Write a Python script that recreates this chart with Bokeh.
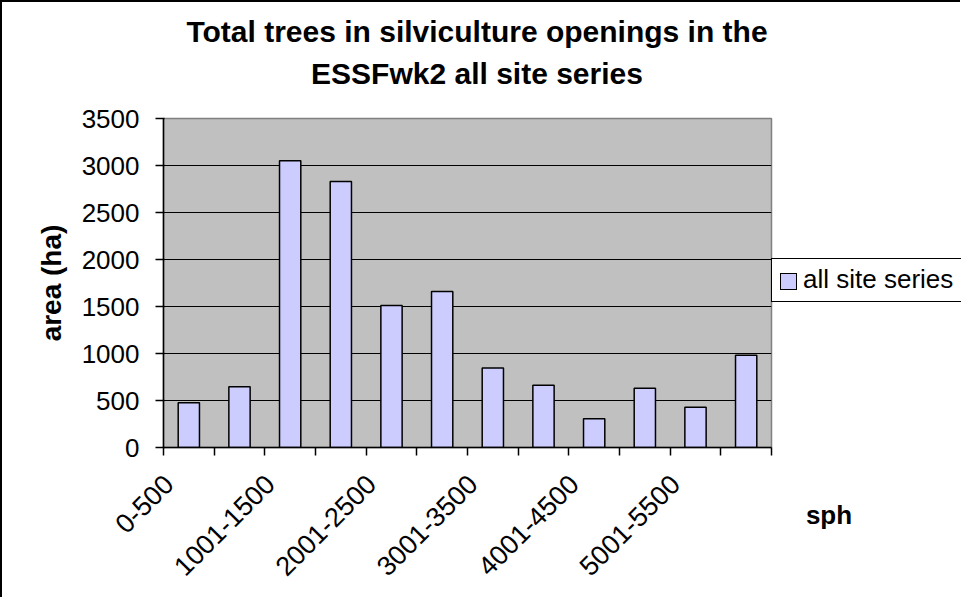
import math
from bokeh.plotting import figure
from bokeh.layouts import column, row
from bokeh.models import FixedTicker, Range1d, ColumnDataSource, Div
from bokeh.embed import file_html
from bokeh.resources import INLINE

# ---- data ----
categories = ["0-500", "501-1000", "1001-1500", "1501-2000", "2001-2500", "2501-3000",
              "3001-3500", "3501-4000", "4001-4500", "4501-5000", "5001-5500", ">5500"]
area_ha = [476, 646, 3050, 2831, 1511, 1659, 847, 661, 307, 629, 428, 981]
y_ticks = [0, 500, 1000, 1500, 2000, 2500, 3000, 3500]
series_name = "all site series"
title_lines = ["Total trees in silviculture openings in the", "ESSFwk2 all site series"]
y_title = "area (ha)"
x_title = "sph"

FONT = "Liberation Sans"
BAR_FILL = "#CCCCFF"
LABEL_SHIFT = 0.4   # rotated category labels end a little left of the category centre

n = len(categories)
xs = [i + 0.5 for i in range(n)]
src = ColumnDataSource(dict(x=xs, area=area_ha, cat=categories))

FRAME_W, FRAME_H = 608, 329
B_LEFT, B_TOP, B_RIGHT, B_BOTTOM = 161, 18, 2, 150

p = figure(width=B_LEFT + FRAME_W + B_RIGHT, height=B_TOP + FRAME_H + B_BOTTOM,
           frame_width=FRAME_W, frame_height=FRAME_H, sizing_mode="fixed",
           x_range=Range1d(0, n), y_range=Range1d(0, y_ticks[-1]),
           output_backend="svg", toolbar_location=None,
           min_border_left=B_LEFT, min_border_top=B_TOP,
           min_border_right=B_RIGHT, min_border_bottom=B_BOTTOM)
p.title.text = ""
p.title.visible = False

p.background_fill_color = "#C0C0C0"
p.border_fill_color = "white"
p.outline_line_color = "#808080"
p.outline_line_width = 1.5

p.vbar(x="x", top="area", width=0.42, bottom=0, source=src,
       fill_color=BAR_FILL, line_color="black", line_width=1.5)

p.xgrid.visible = False
p.ygrid.grid_line_color = "black"
p.ygrid.grid_line_width = 1.2

# y axis
ya = p.yaxis[0]
ya.ticker = FixedTicker(ticks=y_ticks)
ya.major_label_text_font = FONT
ya.major_label_text_font_size = "26px"
ya.major_label_text_color = "black"
ya.major_tick_out = 8
ya.major_tick_in = 1
ya.major_tick_line_color = "black"
ya.major_tick_line_width = 1.5
ya.minor_tick_line_color = None
ya.axis_line_color = "black"
ya.axis_line_width = 1.5
ya.major_label_standoff = 16
ya.axis_label = y_title
ya.axis_label_text_font = FONT
ya.axis_label_text_font_style = "bold"
ya.axis_label_text_font_size = "28px"
ya.axis_label_text_color = "black"
ya.axis_label_standoff = 12

# x axis: tick marks between categories, every other category labelled
xa = p.xaxis[0]
label_ticks = [xs[i] - LABEL_SHIFT for i in range(0, n, 2)]
xa.ticker = FixedTicker(ticks=label_ticks, minor_ticks=list(range(n + 1)))
xa.major_label_overrides = {xs[i] - LABEL_SHIFT: categories[i] for i in range(0, n, 2)}
xa.major_tick_line_color = None
xa.major_tick_out = 0
xa.major_tick_in = 0
xa.minor_tick_line_color = "black"
xa.minor_tick_line_width = 1.5
xa.minor_tick_out = 8
xa.minor_tick_in = 0
xa.axis_line_color = "black"
xa.axis_line_width = 1.5
xa.major_label_orientation = math.pi / 4
xa.major_label_text_font = FONT
xa.major_label_text_font_size = "27px"
xa.major_label_text_color = "black"
xa.major_label_standoff = 24

# ---- title block (two centred lines) ----
title_html = (
    "<div style=\"position:relative;width:950px;height:98px;\">"
    "<div style=\"position:absolute;left:0;top:9px;width:950px;text-align:center;"
    f"font-family:'{FONT}';font-weight:bold;font-size:30px;line-height:41.6px;color:black;"
    "white-space:nowrap;\">"
    + "<br>".join(title_lines) +
    "</div></div>"
)
title_div = Div(text=title_html, width=958, height=98, margin=0)

# ---- right-hand block: legend box and the x-axis title ----
right_w = 958 - (B_LEFT + FRAME_W + B_RIGHT)
right_h = B_TOP + FRAME_H + B_BOTTOM
right_html = (
    f"<div style=\"position:relative;width:{right_w}px;height:{right_h}px;overflow:visible;\">"
    # legend box
    "<div style=\"position:absolute;left:-2px;top:158px;width:200px;height:44px;"
    "box-sizing:border-box;border:1.5px solid black;border-right:none;background:white;\"></div>"
    # legend swatch
    f"<div style=\"position:absolute;left:7px;top:173px;width:17px;height:17px;"
    f"box-sizing:border-box;border:1.5px solid black;background:{BAR_FILL};\"></div>"
    # legend label
    f"<div style=\"position:absolute;left:30px;top:166px;font-family:'{FONT}';font-size:26px;"
    f"line-height:26px;color:black;white-space:nowrap;\">{series_name}</div>"
    # x-axis title
    f"<div style=\"position:absolute;left:16px;top:402px;width:80px;text-align:center;"
    f"font-family:'{FONT}';font-weight:bold;font-size:26px;line-height:26px;color:black;\">"
    f"{x_title}</div>"
    "</div>"
)
right_div = Div(text=right_html, width=right_w, height=right_h, margin=0)

layout = column(title_div, row(p, right_div, spacing=0), spacing=0)
layout.styles = {"border-left": "2px solid black", "border-top": "2px solid black"}

open("out.html", "w").write(file_html(layout, INLINE))
